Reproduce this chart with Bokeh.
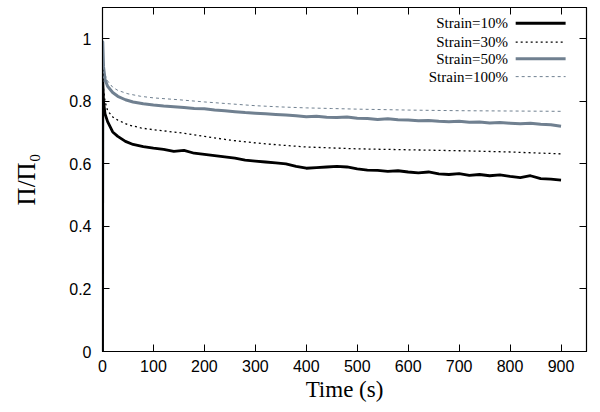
from bokeh.plotting import figure
from bokeh.models import (Range1d, FixedTicker, LinearAxis, NumeralTickFormatter,
                          Label, Arrow, ColumnDataSource)
from bokeh.embed import file_html
from bokeh.resources import INLINE

# ---------------- data ----------------
t_fine = [0, 0.5, 2, 5, 10, 20, 30, 45, 60, 80, 100, 120, 140, 160, 180, 200,
          220, 240, 260, 280, 300, 320, 340, 360, 380, 400, 420, 440, 460, 480,
          500, 520, 540, 560, 580, 600, 620, 640, 660, 680, 700, 720, 740, 760,
          780, 800, 820, 840, 860, 880, 900]
strain10 = [0.0, 0.86, 0.80, 0.76, 0.735, 0.702, 0.688, 0.672, 0.662, 0.655,
            0.650, 0.646, 0.640, 0.643, 0.634, 0.630, 0.626, 0.622, 0.618, 0.612,
            0.609, 0.606, 0.603, 0.600, 0.592, 0.586, 0.588, 0.590, 0.592, 0.590,
            0.584, 0.580, 0.579, 0.576, 0.578, 0.574, 0.571, 0.574, 0.568, 0.566,
            0.569, 0.563, 0.566, 0.562, 0.565, 0.560, 0.556, 0.562, 0.553, 0.551,
            0.548]
strain50 = [0.0, 0.99, 0.91, 0.87, 0.848, 0.828, 0.816, 0.805, 0.798, 0.792,
            0.788, 0.785, 0.783, 0.780, 0.777, 0.776, 0.772, 0.770, 0.767, 0.764,
            0.762, 0.760, 0.758, 0.756, 0.754, 0.751, 0.752, 0.749, 0.748, 0.750,
            0.746, 0.745, 0.742, 0.744, 0.741, 0.740, 0.738, 0.739, 0.736, 0.735,
            0.736, 0.733, 0.734, 0.731, 0.732, 0.730, 0.728, 0.730, 0.727, 0.725,
            0.720]

t_coarse = [0, 0.5, 2, 5, 10, 20, 30, 50, 75, 100, 150, 200, 250, 300, 350,
            400, 450, 500, 600, 700, 800, 900]
strain30 = [0.0, 0.90, 0.84, 0.80, 0.77, 0.75, 0.74, 0.725, 0.715, 0.709, 0.700,
            0.688, 0.676, 0.667, 0.660, 0.654, 0.651, 0.648, 0.645, 0.642, 0.638,
            0.632]
strain100 = [0.0, 0.97, 0.91, 0.885, 0.865, 0.845, 0.835, 0.824, 0.816, 0.811,
             0.805, 0.798, 0.792, 0.786, 0.782, 0.779, 0.777, 0.775, 0.772, 0.770,
             0.769, 0.768]

series_labels = ["Strain=10%", "Strain=30%", "Strain=50%", "Strain=100%"]
x_ticks = [0, 100, 200, 300, 400, 500, 600, 700, 800, 900]
y_ticks = [0, 0.2, 0.4, 0.6, 0.8, 1.0]

# ---------------- styles ----------------
GRAY = "#708090"
styles = [
    dict(color="black", width=2.8, dash="solid", leg_width=3),
    dict(color="black", width=1.3, dash="2 3", leg_width=1.3),
    dict(color=GRAY, width=3.0, dash="solid", leg_width=3),
    dict(color=GRAY, width=1.0, dash="3 3", leg_width=1.0),
]
SANS = "Liberation Sans"
SERIF = "Liberation Serif"

p = figure(width=592, height=404, x_range=Range1d(0, 950), y_range=Range1d(0, 1.1),
           output_backend="svg", toolbar_location=None,
           min_border_left=102, min_border_right=6, min_border_top=7,
           min_border_bottom=53)
p.grid.visible = False
p.outline_line_color = "black"
p.outline_line_width = 1.2
p.background_fill_color = "white"
p.border_fill_color = "white"

xs = [t_fine, t_coarse, t_fine, t_coarse]
ys = [strain10, strain30, strain50, strain100]
order = [3, 2, 1, 0]
for i in order:
    st = styles[i]
    src = ColumnDataSource(dict(t=xs[i], v=ys[i]))
    p.line("t", "v", source=src, line_color=st["color"], line_width=st["width"],
           line_dash=st["dash"], line_join="round")

# axes
xa = p.xaxis[0]
xa.ticker = FixedTicker(ticks=x_ticks)
xa.axis_label = "Time (s)"
ya = p.yaxis[0]
ya.ticker = FixedTicker(ticks=y_ticks)
ya.formatter = NumeralTickFormatter(format="0.[0]")
ya.axis_label = "Π/Π₀"
for ax in (xa, ya):
    ax.major_tick_in = 7
    ax.major_tick_out = 0
    ax.minor_tick_in = 0
    ax.minor_tick_out = 0
    ax.major_tick_line_color = "black"
    ax.axis_line_color = "black"
    ax.major_label_text_font = SANS
    ax.major_label_text_font_size = "16px"
    ax.major_label_text_color = "black"
    ax.axis_label_text_font = SERIF
    ax.axis_label_text_font_style = "normal"
    ax.axis_label_text_color = "black"
xa.major_label_standoff = 8
xa.axis_label_standoff = 2
xa.axis_label_text_font_size = "23px"
ya.major_label_standoff = 11
ya.axis_label_standoff = 26
ya.axis_label_text_font_size = "25px"

# mirrored ticks (no labels)
mirror_kw = dict(major_label_text_font_size="1px", major_label_text_color=None,
                 major_label_standoff=0, major_tick_in=7, major_tick_out=0,
                 minor_tick_in=0, minor_tick_out=0, axis_line_color="black",
                 major_tick_line_color="black")
top = LinearAxis(ticker=FixedTicker(ticks=x_ticks), **mirror_kw)
right = LinearAxis(ticker=FixedTicker(ticks=y_ticks), **mirror_kw)
p.add_layout(top, "above")
p.add_layout(right, "right")

# legend (text right-aligned, sample line to the right)
LEG_TEXT_X = 796
LEG_X0, LEG_X1 = 811, 909
LEG_Y = [1.050, 0.989, 0.936, 0.879]
for i, lab in enumerate(series_labels):
    st = styles[i]
    p.add_layout(Label(x=LEG_TEXT_X, y=LEG_Y[i], text=lab, text_align="right",
                       text_baseline="middle", text_font=SERIF,
                       text_font_size="15px", text_color="black"))
    p.add_layout(Arrow(start=None, end=None, x_start=LEG_X0, y_start=LEG_Y[i],
                       x_end=LEG_X1, y_end=LEG_Y[i], line_color=st["color"],
                       line_width=st["leg_width"], line_dash=st["dash"]))

open("out.html", "w").write(file_html(p, INLINE))
